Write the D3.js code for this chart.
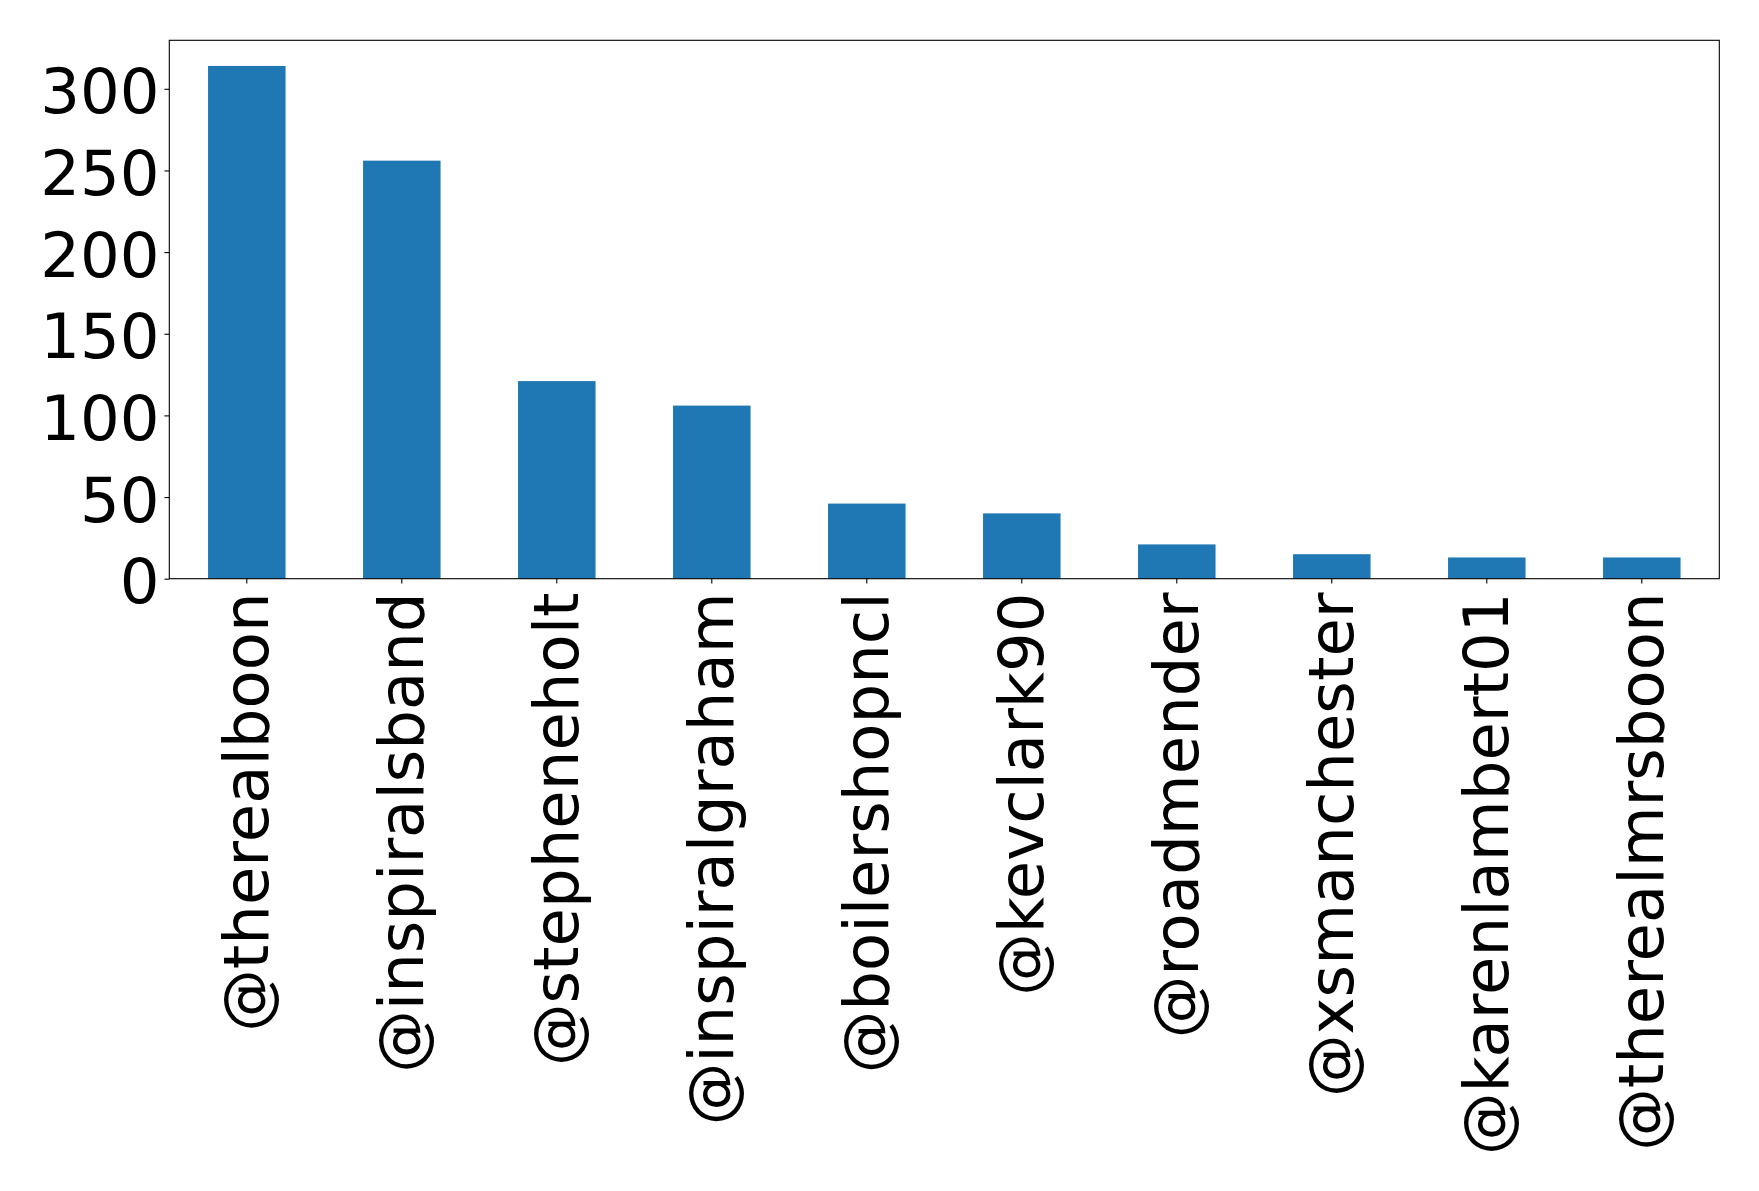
<!DOCTYPE html>
<html>
<head>
<meta charset="utf-8">
<script src="https://cdn.jsdelivr.net/npm/d3@7"></script>
<style>
  html, body { margin: 0; padding: 0; background: #fff; }
  svg { display: block; }
  text { font-family: "DejaVu Sans", sans-serif; }
</style>
</head>
<body>
<svg id="chart" width="1759" height="1191"></svg>
<script>
const categories = ["@therealboon", "@inspiralsband", "@stepheneholt", "@inspiralgraham", "@boilershopncl", "@kevclark90", "@roadmender", "@xsmanchester", "@karenlambert01", "@therealmrsboon"];
const values = [314, 256, 121, 106, 46, 40, 21, 15, 13, 13];
const yTicks = [0, 50, 100, 150, 200, 250, 300];

const W = 1759, H = 1191;
const m = { left: 169.3, right: 1719.3, top: 40.3, bottom: 578.7 };
const fontSize = 62.5;
const tickLen = 4.86, tickPad = 4.86;

const svg = d3.select("#chart");

const x = d3.scaleBand()
  .domain(categories)
  .range([m.left, m.right])
  .paddingInner(0.5)
  .paddingOuter(0.25);

const y = d3.scaleLinear()
  .domain([0, d3.max(values) * 1.05])
  .range([m.bottom, m.top]);

// bars
svg.append("g")
  .selectAll("rect")
  .data(categories)
  .join("rect")
  .attr("x", d => x(d))
  .attr("width", x.bandwidth())
  .attr("y", (d, i) => y(values[i]))
  .attr("height", (d, i) => y(0) - y(values[i]))
  .attr("fill", "#1f77b4");

// y axis
const yAxis = svg.append("g")
  .attr("transform", `translate(${m.left},0)`)
  .call(d3.axisLeft(y).tickValues(yTicks).tickSize(tickLen).tickPadding(tickPad).tickFormat(d3.format("d")));
yAxis.select(".domain").remove();
yAxis.selectAll(".tick line").attr("stroke", "#000").attr("stroke-width", 1.1);
yAxis.selectAll(".tick text")
  .attr("font-size", fontSize)
  .attr("font-family", "DejaVu Sans")
  .attr("fill", "#000")
  .attr("dy", "0.385em");

// x axis
const xAxis = svg.append("g")
  .attr("transform", `translate(0,${m.bottom})`)
  .call(d3.axisBottom(x).tickSize(tickLen).tickPadding(tickPad));
xAxis.select(".domain").remove();
xAxis.selectAll(".tick line").attr("stroke", "#000").attr("stroke-width", 1.1);
xAxis.selectAll(".tick text")
  .attr("font-size", fontSize)
  .attr("font-family", "DejaVu Sans")
  .attr("fill", "#000")
  .attr("text-anchor", "end")
  .attr("x", 0)
  .attr("y", 0)
  .attr("dy", "0.335em")
  .attr("transform", `translate(0,${tickLen + tickPad + 4}) rotate(-90)`);

// frame
svg.append("rect")
  .attr("x", m.left)
  .attr("y", m.top)
  .attr("width", m.right - m.left)
  .attr("height", m.bottom - m.top)
  .attr("fill", "none")
  .attr("stroke", "#000")
  .attr("stroke-width", 1.1);
</script>
</body>
</html>
